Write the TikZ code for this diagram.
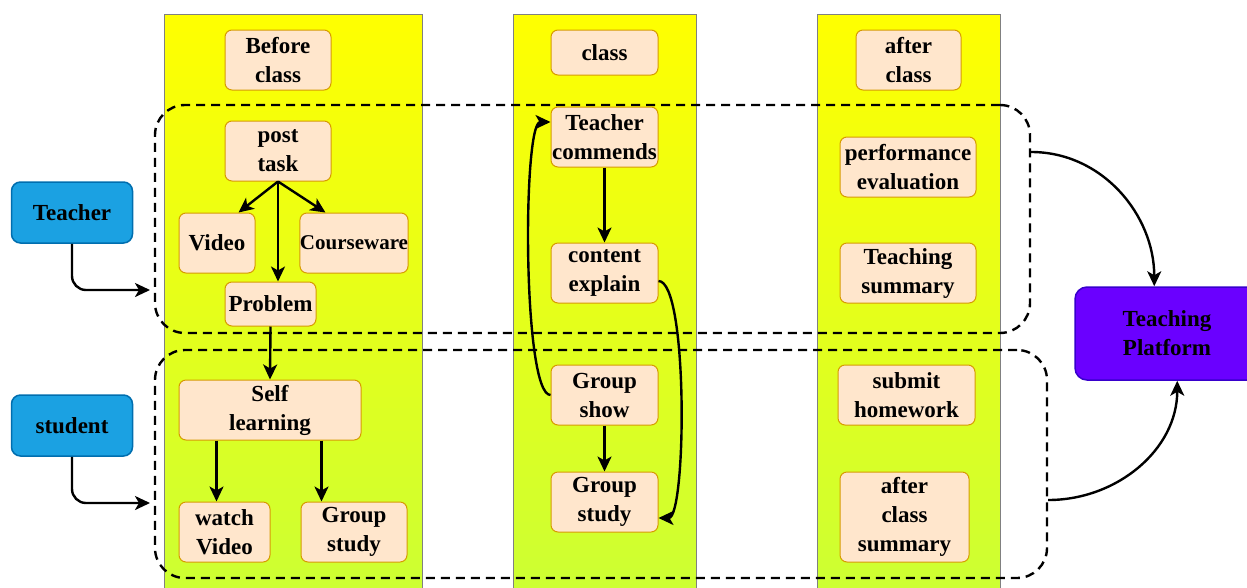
\documentclass[tikz,border=0pt]{standalone}
\usepackage{fontspec}
\setmainfont{Liberation Serif}
\usetikzlibrary{arrows.meta}
\definecolor{nodefill}{HTML}{FFE6CC}
\definecolor{nodedraw}{HTML}{D79B00}
\definecolor{bluefill}{HTML}{1BA1E2}
\definecolor{bluedraw}{HTML}{006EAF}
\definecolor{purpfill}{HTML}{6A00FF}
\definecolor{purpdraw}{HTML}{3700CC}
\definecolor{lanetop}{HTML}{FFFF00}
\definecolor{lanebot}{HTML}{CCFF33}
\definecolor{lanedraw}{HTML}{808080}
\begin{document}
\begin{tikzpicture}[x=1pt,y=-1pt,
  font=\bfseries\fontsize{23}{29}\selectfont,
  box/.style={draw=nodedraw, fill=nodefill, rounded corners=7pt, align=center, inner sep=0pt, line width=1pt},
  actor/.style={draw=bluedraw, fill=bluefill, rounded corners=9pt, align=center, line width=1.5pt, minimum width=121pt, minimum height=61pt},
  lane/.style={draw=lanedraw, top color=lanetop, bottom color=lanebot, line width=1pt},
  group/.style={draw=black, dash pattern=on 9pt off 6pt, line width=2.4pt, rounded corners=30pt, inner sep=0pt},
  arr/.style={-{Stealth[length=15pt,width=14pt,inset=4pt]}, line width=2.4pt}]
\useasboundingbox (0,0) rectangle (1247,587);
% lanes
\path[lane] (164,14) rectangle (422,596);
\path[lane] (513,14) rectangle (696,596);
\path[lane] (817,14) rectangle (1000,596);
% groups
\node[group, minimum width=875pt, minimum height=228pt] (g1) at (592.5,219) {};
\node[group, minimum width=892pt, minimum height=228pt] (g2) at (601,464) {};
% actors
\node[actor] (teacher) at (72,212.5) {Teacher};
\node[actor] (student) at (72,425.5) {student};
\node[draw=purpdraw, fill=purpfill, rounded corners=12pt, align=center, line width=1.5pt,
      minimum width=184pt, minimum height=93pt] (tp) at (1167,333.5) {Teaching\\Platform};
% lane 1
\node[box, minimum width=106pt, minimum height=60pt] (before) at (278,60) {Before\\class};
\node[box, minimum width=106pt, minimum height=60pt] (post) at (278,151) {post\\task};
\node[box, minimum width=76pt, minimum height=60pt] (video) at (217,243) {Video};
\node[box, minimum width=106pt, minimum height=60pt] (cw) at (354,243) {\fontsize{21}{29}\selectfont Courseware};
\node[box, minimum width=91pt, minimum height=44pt] (problem) at (270.5,304) {Problem};
\node[box, minimum width=182pt, minimum height=60pt] (self) at (270,410) {Self\\learning};
\node[box, minimum width=91pt, minimum height=60pt] (wv) at (224.5,532) {watch\\Video};
\node[box, minimum width=106pt, minimum height=60pt] (gs1) at (354,532) {Group\\study};
% lane 2
\node[box, minimum width=107pt, minimum height=45pt] (class) at (604.5,52.5) {class};
\node[box, minimum width=107pt, minimum height=60pt] (tc) at (604.5,137) {Teacher\\commends};
\node[box, minimum width=107pt, minimum height=60pt] (ce) at (604.5,273) {content\\explain};
\node[box, minimum width=107pt, minimum height=60pt] (gshow) at (604.5,395) {Group\\show};
\node[box, minimum width=107pt, minimum height=60pt] (gs2) at (604.5,502) {Group\\study};
% lane 3
\node[box, minimum width=105pt, minimum height=60pt] (after) at (908.5,60) {after\\class};
\node[box, minimum width=136pt, minimum height=60pt] (perf) at (908,167) {performance\\evaluation};
\node[box, minimum width=136pt, minimum height=60pt] (tsum) at (908,273) {Teaching\\summary};
\node[box, minimum width=137pt, minimum height=60pt] (submit) at (906.5,395) {submit\\homework};
\node[box, minimum width=129pt, minimum height=90pt] (acs) at (904.5,517) {after\\class\\summary};
% connectors
\coordinate (ta) at (150,290);
\coordinate (sa) at (150,503);
\draw[arr, rounded corners=14pt] (teacher.south) |- (ta);
\draw[arr, rounded corners=14pt] (student.south) |- (sa);
\draw[arr] (post.south) -- ([xshift=-17pt]video.north east);
\draw[arr] (post.south) -- ([xshift=26pt]cw.north west);
\draw[arr] (post.south) -- (post.south |- problem.north);
\draw[arr] (problem.south) -- (self.north);
\draw[arr] ([xshift=38pt]self.south west) -- ([xshift=38pt]self.south west |- wv.north);
\draw[arr] ([xshift=143pt]self.south west) -- ([xshift=143pt]self.south west |- gs1.north);
\draw[arr] (tc.south) -- (ce.north);
\draw[arr] (gshow.south) -- (gs2.north);
\draw[arr] ([yshift=-8pt]ce.east) .. controls +(30,0) and +(28,0) .. ([yshift=-16pt]gs2.east);
\draw[arr] (gshow.west) .. controls +(-28,0) and +(-28,0) .. ([yshift=15pt]tc.west);
\draw[arr] ([yshift=67pt]g1.east) to[out=0,in=90] ([xshift=80pt]tp.north west);
\draw[arr] ([yshift=-36pt]g2.east) to[out=0,in=-90] ([xshift=103pt]tp.south west);
\end{tikzpicture}
\end{document}
